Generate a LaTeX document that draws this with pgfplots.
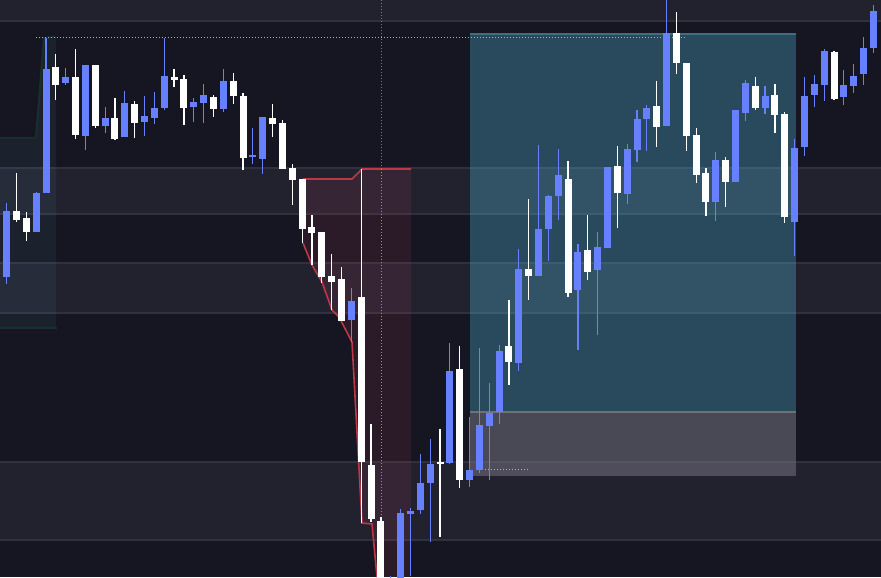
\documentclass[border=0pt]{standalone}
\usepackage{pgfplots}
\usepackage{pgfplotstable}
\pgfplotsset{compat=1.18}
\definecolor{bg}{HTML}{161622}
\definecolor{band}{HTML}{22222F}
\definecolor{bline}{HTML}{31313D}
\definecolor{cblue}{HTML}{6680FF}
\definecolor{tealbox}{RGB}{86,190,225}
\definecolor{graybox}{RGB}{118,115,130}
\definecolor{redline}{RGB}{190,55,70}
\definecolor{redfill}{RGB}{200,60,90}
\definecolor{leftov}{RGB}{90,170,180}
\definecolor{greenedge}{RGB}{24,48,44}

% candle tables: k = bar index, bt/bb = body top/bottom, wt/wb = wick top/bottom (screen units, y grows downward)
\pgfplotstableread{
k bt bb wt wb
-5 275 291 270 295
-4 211 277 203 284
-1 193 232 192 232
0 69 193 38 193
2 77 83 68 85
4 65 136 65 150
6 118 126 107 133
8 103 137 91 137
10 116 122 96 136
11 108 118 92 124
12 76 108 38 110
15 102 107 98 122
16 95 103 84 123
18 81 109 69 112
21 155 157 128 164
22 117 159 117 174
31 301 320 288 342
35 590 620 576 630
36 513 600 509 610
37 511 514 508 576
38 483 510 454 514
39 464 483 439 542
41 371 463 343 464
43 470 480 417 487
44 425 470 348 473
45 413 426 383 480
46 351 412 345 424
48 269 363 249 371
50 229 276 145 276
51 196 229 195 261
52 175 196 149 220
54 252 290 244 350
56 247 270 232 335
57 167 248 167 248
59 149 194 144 204
60 119 150 110 162
61 108 119 105 151
63 33 126 0 126
68 160 202 152 221
70 110 182 110 182
71 83 113 80 121
73 96 108 86 114
76 148 222 139 256
77 96 147 77 156
78 84 95 75 107
79 51 85 49 101
81 85 97 70 105
82 76 86 64 93
83 48 74 37 85
84 11 48 5 53
}\bluec

\pgfplotstableread{
k bt bb wt wb
-3 211 220 173 222
-2 218 232 212 241
1 67 85 54 100
3 77 135 49 139
5 65 126 65 128
7 118 139 98 140
9 104 123 101 138
13 77 80 69 87
14 79 108 75 125
17 97 109 95 117
19 81 96 73 104
20 96 158 93 170
23 118 124 104 137
24 123 169 120 169
25 168 180 164 205
26 179 229 179 243
27 227 233 215 265
28 232 277 232 283
29 276 282 254 310
30 279 321 267 321
32 297 462 169 523
33 465 519 424 522
34 521 600 517 610
40 462.3 464.3 429 537
42 369 480 346 488
47 346 362 300 385
49 269 276 199 300
53 179 293 161 297
55 250 272 215 280
58 166 193 146 228
62 106 127 81 147
64 33 63 12 74
65 63 136 63 151
66 135 175 128 183
67 173 202 168 216
69 160 182 157 207
72 86 108 77 110
74 95 115 84 133
75 114 217 112 223
80 52 99 51 100
}\whitec

\pgfplotsset{
  candle/.style 2 args={only marks, mark=*, mark options={opacity=0}, forget plot,
    error bars/.cd, y dir=both, y explicit, error mark=none,
    error bar style={line width=#1, draw=#2}},
}

\begin{document}
\begin{tikzpicture}
\begin{axis}[
  scale only axis, width=440.5pt, height=288.5pt,
  xmin=0, xmax=881, ymin=0, ymax=577, y dir=reverse,
  hide axis, clip=true,
]
% background
\addplot[fill=bg, draw=none, forget plot] coordinates {(0,0) (881,0) (881,577) (0,577)} -- cycle;
% horizontal bands
\addplot[fill=band, draw=none, forget plot] coordinates {(0,0) (881,0) (881,21) (0,21)} -- cycle;
\addplot[fill=band, draw=none, forget plot] coordinates {(0,168) (881,168) (881,214) (0,214)} -- cycle;
\addplot[fill=band, draw=none, forget plot] coordinates {(0,263) (881,263) (881,313) (0,313)} -- cycle;
\addplot[fill=band, draw=none, forget plot] coordinates {(0,462) (881,462) (881,540) (0,540)} -- cycle;
\foreach \yy in {21,168,214,263,313,462,540} {
  \addplot[bline, line width=1pt, forget plot] coordinates {(0,\yy) (881,\yy)};
}
% left overlay
\addplot[fill=leftov, fill opacity=0.08, draw=none, forget plot] coordinates {(0,138) (36,138) (44,38) (56,37) (56,328) (0,328)} -- cycle;
\addplot[greenedge, line width=1pt, forget plot] coordinates {(0,138) (36,138) (44,38) (56,37)};
\addplot[greenedge, line width=1pt, forget plot] coordinates {(0,328) (57,328)};
% teal and gray boxes
\addplot[fill=tealbox, fill opacity=0.31, draw=none, forget plot] coordinates {(470,34) (796,34) (796,412) (470,412)} -- cycle;
\addplot[fill=graybox, fill opacity=0.54, draw=none, forget plot] coordinates {(470,412) (796,412) (796,476) (470,476)} -- cycle;
\addplot[color={rgb,255:red,62;green,110;blue,132}, line width=0.6pt, forget plot] coordinates {(470,34) (796,34)};
\addplot[color={rgb,255:red,112;green,112;blue,122}, line width=0.6pt, forget plot] coordinates {(470,412) (796,412)};
% red zone
\addplot[fill=redfill, fill opacity=0.12, draw=none, forget plot] coordinates {(303,179) (352,179) (362,169) (411,169) (411,577) (377,577) (372,524) (362,523) (352,342) (339,317) (332,310) (322,282) (312,265) (303,243)} -- cycle;
\addplot[redline, line width=0.8pt, forget plot] coordinates {(303,179) (352,179) (362,169) (411,169)};
\addplot[redline, line width=0.8pt, forget plot] coordinates {(303,243) (312,265) (322,282) (332,310) (339,317) (352,342) (362,523) (372,524) (377,577)};
% dotted guide lines
\addplot[color={rgb,255:red,120;green,120;blue,135}, line width=0.5pt, dash pattern=on 0.5pt off 1pt, forget plot] coordinates {(381,0) (381,169)};
\addplot[color={rgb,255:red,160;green,160;blue,60}, line width=0.5pt, dash pattern=on 0.5pt off 1pt, forget plot] coordinates {(381,169) (381,577)};
\addplot[color={rgb,255:red,175;green,175;blue,185}, line width=0.5pt, dash pattern=on 0.5pt off 1pt, forget plot] coordinates {(36,38) (686,38)};
\addplot[color={rgb,255:red,175;green,175;blue,185}, line width=0.5pt, dash pattern=on 0.5pt off 1pt, forget plot] coordinates {(485,469) (530,469)};
% candles: wicks
\addplot[candle={0.6pt}{cblue}]
  table[x expr=46+9.85*\thisrow{k}, y expr=(\thisrow{wt}+\thisrow{wb})/2, y error expr=(\thisrow{wb}-\thisrow{wt})/2] {\bluec};
\addplot[candle={0.6pt}{white}]
  table[x expr=46+9.85*\thisrow{k}, y expr=(\thisrow{wt}+\thisrow{wb})/2, y error expr=(\thisrow{wb}-\thisrow{wt})/2] {\whitec};
% candles: bodies
\addplot[candle={3.5pt}{cblue}]
  table[x expr=46+9.85*\thisrow{k}, y expr=(\thisrow{bt}+\thisrow{bb})/2, y error expr=(\thisrow{bb}-\thisrow{bt})/2] {\bluec};
\addplot[candle={3.5pt}{white}]
  table[x expr=46+9.85*\thisrow{k}, y expr=(\thisrow{bt}+\thisrow{bb})/2, y error expr=(\thisrow{bb}-\thisrow{bt})/2] {\whitec};
\end{axis}
\pgfresetboundingbox
\useasboundingbox (current axis.south west) rectangle (current axis.north east);
\end{tikzpicture}
\end{document}
